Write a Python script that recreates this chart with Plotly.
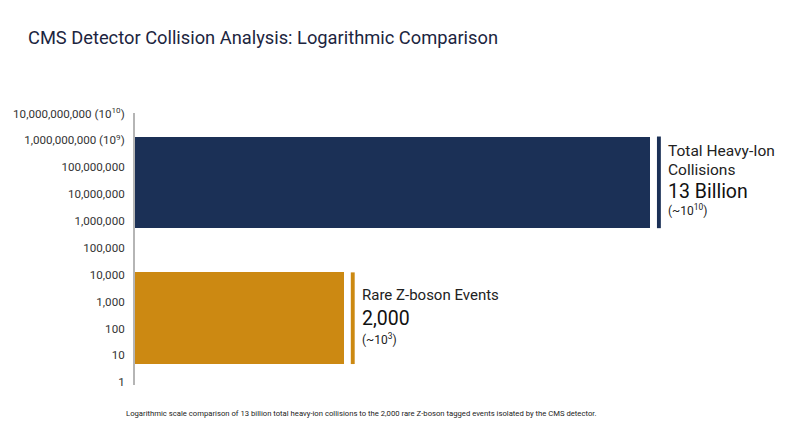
import plotly.graph_objects as go

# ---- data ----
categories = ["Total Heavy-Ion Collisions", "Rare Z-boson Events"]
counts = [13_000_000_000, 2_000]
count_labels = ["13 Billion", "2,000"]
magnitude_labels = ["(~10<sup>10</sup>)", "(~10<sup>3</sup>)"]
name_lines = [["Total Heavy-Ion", "Collisions"], ["Rare Z-boson Events"]]
bar_length = [79.3, 32.2]          # display length of each bar (arbitrary units)
band_center_log = [7.44, 2.385]     # vertical centre of each band, in log10 units
band_span_log = 3.41                # band thickness, in decades
tick_vals = list(range(0, 11))
tick_text = ["1", "10", "100", "1,000", "10,000", "100,000", "1,000,000",
             "10,000,000", "100,000,000", "1,000,000,000 (10<sup>9</sup>)",
             "10,000,000,000 (10<sup>10</sup>)"]
colors = ["#1b3056", "#cc8912"]

FONT = "Roboto"
fig = go.Figure()
fig.add_trace(go.Bar(
    x=bar_length, y=band_center_log, orientation="h",
    width=[band_span_log] * len(categories),
    marker=dict(color=colors, line=dict(width=0)),
    hovertext=[f"{c}: {n:,}" for c, n in zip(categories, counts)],
    hoverinfo="text", showlegend=False,
))

half = band_span_log / 2
for i in range(len(categories)):
    fig.add_shape(type="rect", xref="x", yref="y",
                  x0=bar_length[i] + 1.0, x1=bar_length[i] + 1.6,
                  y0=band_center_log[i] - half, y1=band_center_log[i] + half,
                  fillcolor=colors[i], line=dict(width=0), layer="above")

tx = [81.7, 34.6]
fig.add_annotation(x=tx[0], y=8.61, text=name_lines[0][0], showarrow=False, xanchor="left",
                   yanchor="middle", font=dict(family=FONT, size=15.5, color="#222"))
fig.add_annotation(x=tx[0], y=7.90, text=name_lines[0][1], showarrow=False, xanchor="left",
                   yanchor="middle", font=dict(family=FONT, size=15.5, color="#222"))
fig.add_annotation(x=tx[0], y=7.09, text=count_labels[0], showarrow=False, xanchor="left",
                   yanchor="middle", font=dict(family=FONT, size=19.5, color="#111"))
fig.add_annotation(x=tx[0], y=6.41, text=magnitude_labels[0], showarrow=False, xanchor="left",
                   yanchor="middle", font=dict(family=FONT, size=12, color="#222"))
fig.add_annotation(x=tx[1], y=3.25, text=name_lines[1][0], showarrow=False, xanchor="left",
                   yanchor="middle", font=dict(family=FONT, size=15, color="#222"))
fig.add_annotation(x=tx[1], y=2.39, text=count_labels[1], showarrow=False, xanchor="left",
                   yanchor="middle", font=dict(family=FONT, size=19.5, color="#111"))
fig.add_annotation(x=tx[1], y=1.61, text=magnitude_labels[1], showarrow=False, xanchor="left",
                   yanchor="middle", font=dict(family=FONT, size=12, color="#222"))

fig.add_annotation(xref="paper", yref="paper", x=0.347, y=-0.103,
                   text="Logarithmic scale comparison of 13 billion total heavy-ion collisions to the 2,000 rare Z-boson tagged events isolated by the CMS detector.",
                   showarrow=False, xanchor="center", yanchor="middle",
                   font=dict(family=FONT, size=7.7, color="#222"))

fig.update_layout(
    width=800, height=447,
    margin=dict(l=135, r=15, t=113, b=62),
    paper_bgcolor="white", plot_bgcolor="white",
    title=dict(text="CMS Detector Collision Analysis: Logarithmic Comparison",
               x=28 / 800, xref="container", xanchor="left",
               y=1 - 38 / 447, yref="container", yanchor="middle",
               font=dict(family=FONT, size=18.3, color="#1c2540")),
    xaxis=dict(range=[0, 100], visible=False, fixedrange=True),
    yaxis=dict(range=[-0.1, 10.02], tickvals=tick_vals, ticktext=tick_text,
               showline=True, linecolor="#b5b5b5", linewidth=2, showgrid=False,
               zeroline=False, ticks="", ticklabelstandoff=6, automargin=False,
               tickfont=dict(family=FONT, size=11.6, color="#333")),
    bargap=0,
)

fig.write_html("out.html", config={"displayModeBar": False},
               post_script="document.body.style.margin='0';")
